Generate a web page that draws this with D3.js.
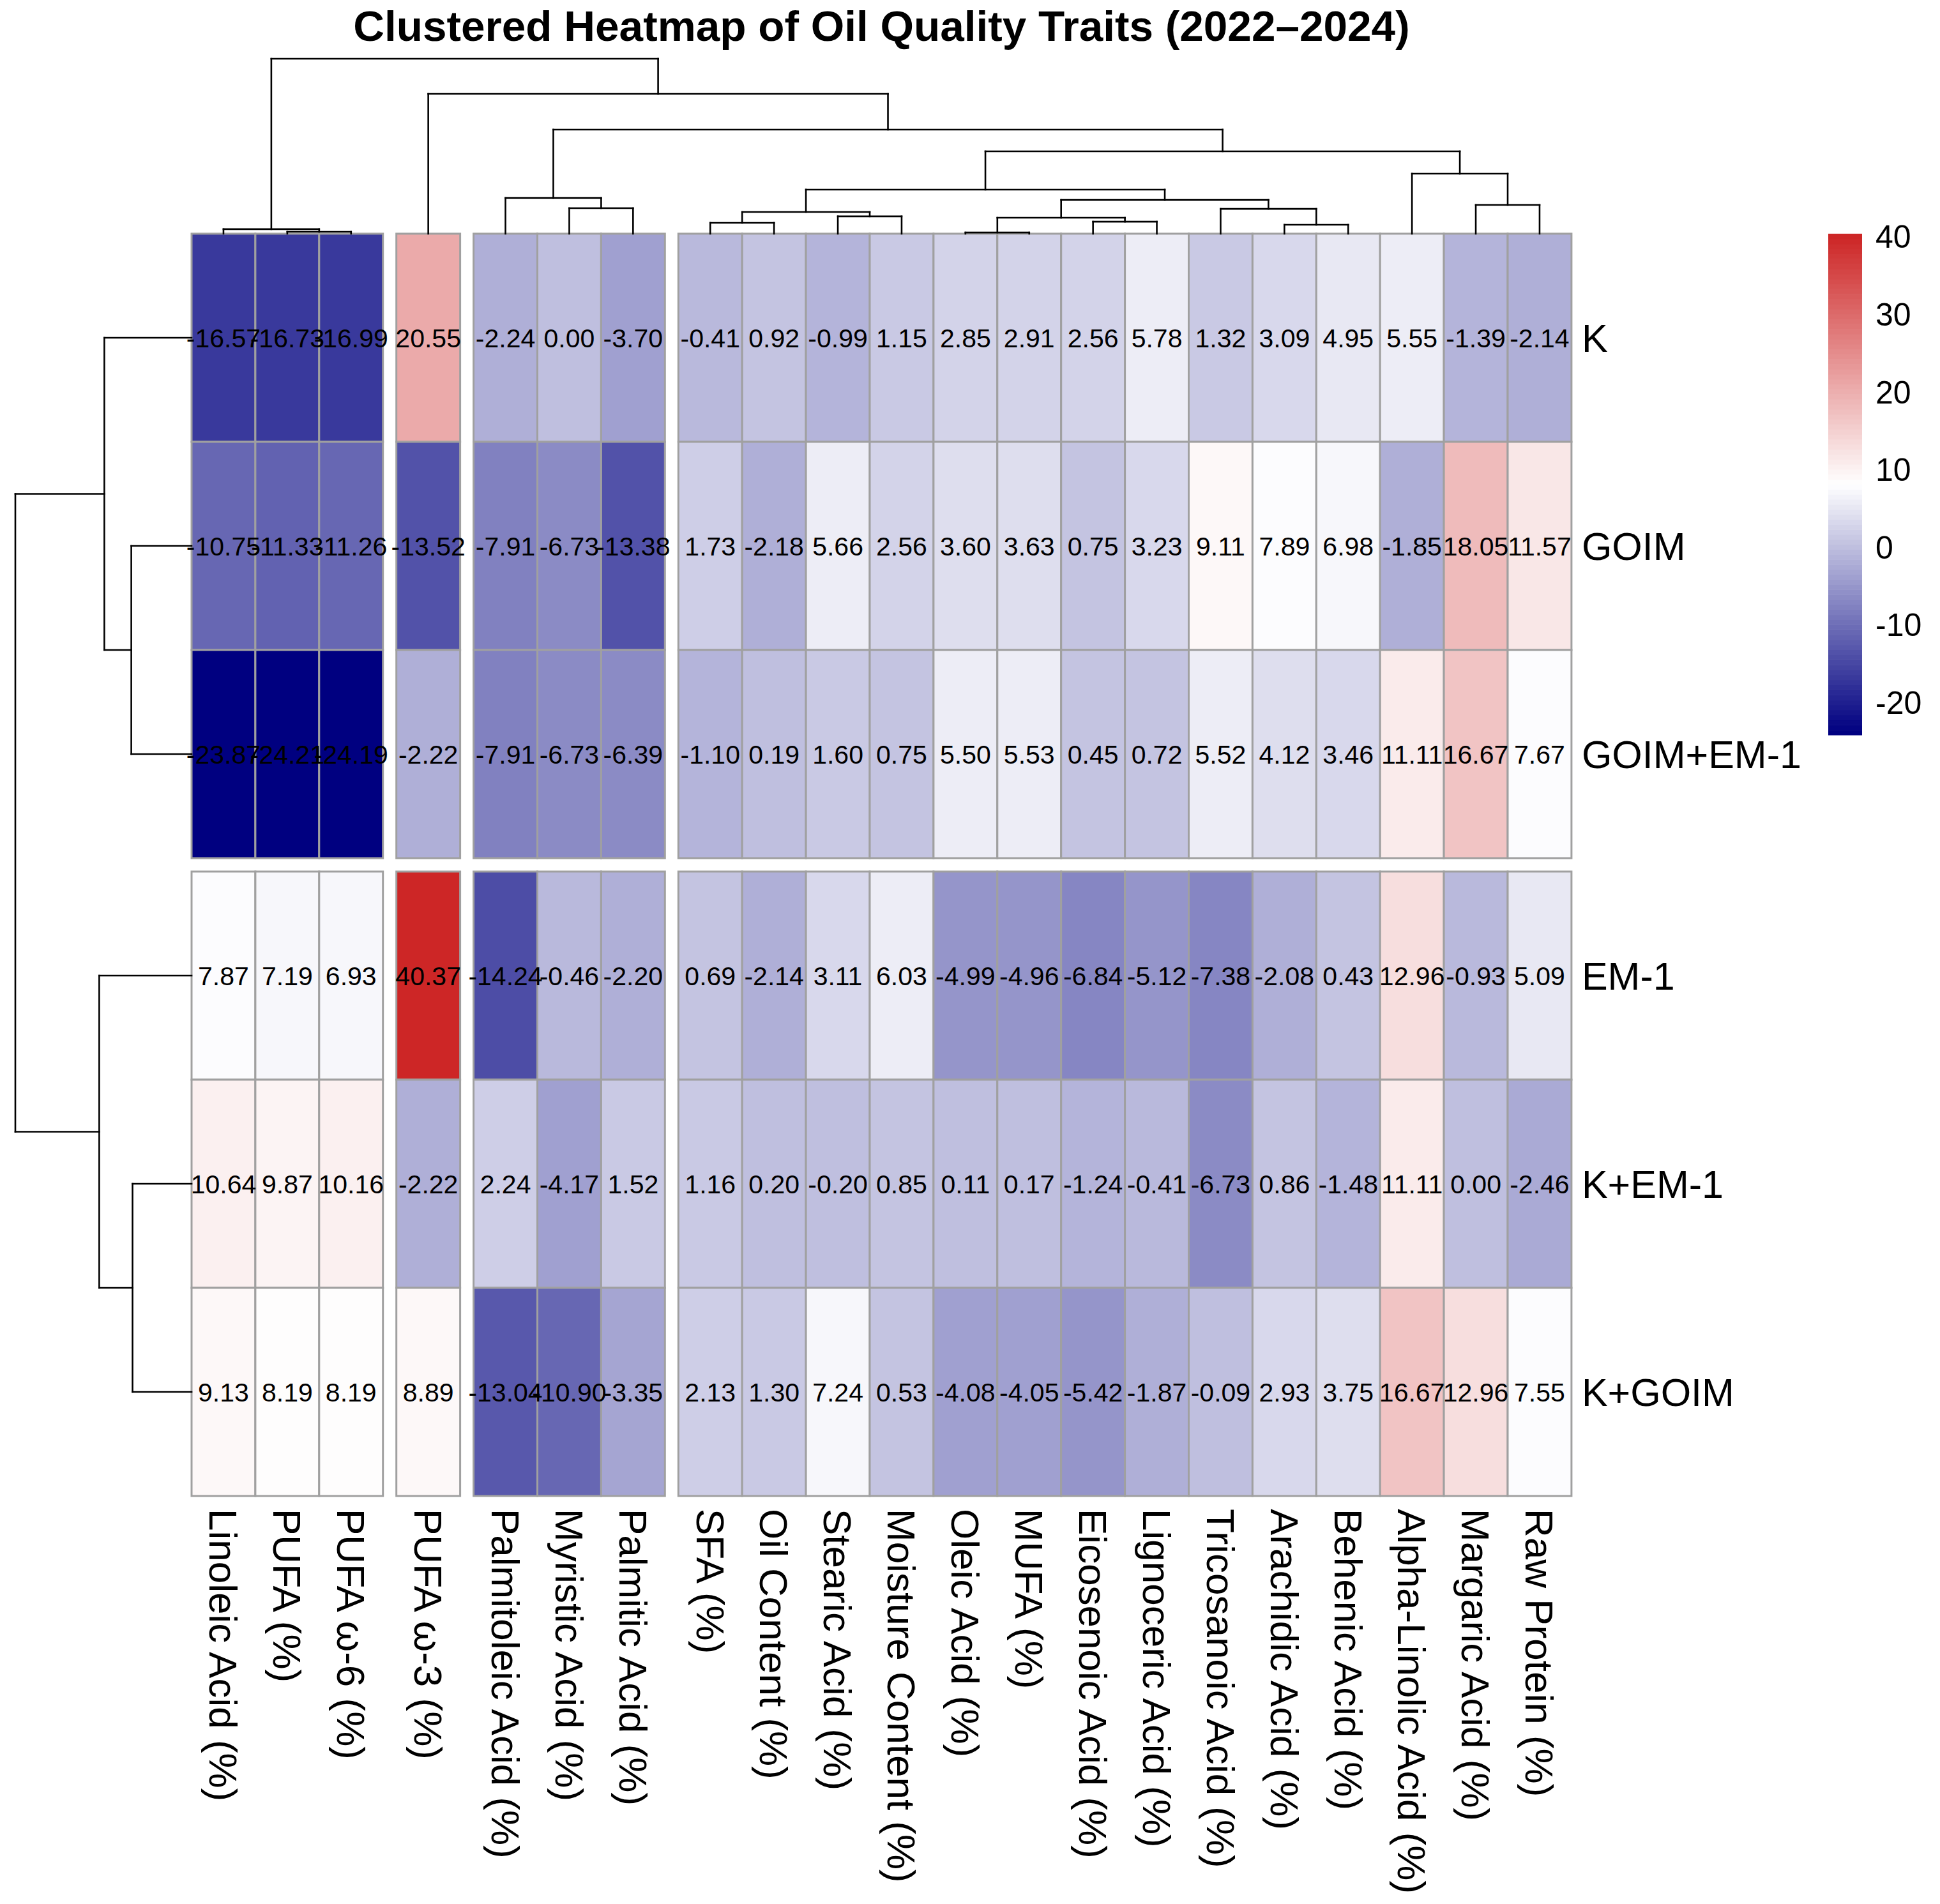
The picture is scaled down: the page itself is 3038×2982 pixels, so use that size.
<!DOCTYPE html>
<html>
<head>
<meta charset="utf-8">
<script src="https://cdn.jsdelivr.net/npm/d3@7"></script>
<style>
  body { margin: 0; background: #fff; }
  text { font-family: "Liberation Sans", Arial, sans-serif; }
</style>
</head>
<body>
<script>
// column / row order as drawn (leaf order of the dendrograms)
var cols = ["Linoleic Acid (%)", "PUFA (%)", "PUFA ω-6 (%)", "PUFA ω-3 (%)",
  "Palmitoleic Acid (%)", "Myristic Acid (%)", "Palmitic Acid (%)",
  "SFA (%)", "Oil Content (%)", "Stearic Acid (%)", "Moisture Content (%)",
  "Oleic Acid (%)", "MUFA (%)", "Eicosenoic Acid (%)", "Lignoceric Acid (%)",
  "Tricosanoic Acid (%)", "Arachidic Acid (%)", "Behenic Acid (%)",
  "Alpha-Linolic Acid (%)", "Margaric Acid (%)", "Raw Protein (%)"];
var rows = ["K", "GOIM", "GOIM+EM-1", "EM-1", "K+EM-1", "K+GOIM"];

var valK      = [-16.57, -16.73, -16.99, 20.55, -2.24, 0.00, -3.70, -0.41, 0.92, -0.99, 1.15, 2.85, 2.91, 2.56, 5.78, 1.32, 3.09, 4.95, 5.55, -1.39, -2.14];
var valGOIM   = [-10.75, -11.33, -11.26, -13.52, -7.91, -6.73, -13.38, 1.73, -2.18, 5.66, 2.56, 3.60, 3.63, 0.75, 3.23, 9.11, 7.89, 6.98, -1.85, 18.05, 11.57];
var valGOIMEM = [-23.87, -24.21, -24.19, -2.22, -7.91, -6.73, -6.39, -1.10, 0.19, 1.60, 0.75, 5.50, 5.53, 0.45, 0.72, 5.52, 4.12, 3.46, 11.11, 16.67, 7.67];
var valEM     = [7.87, 7.19, 6.93, 40.37, -14.24, -0.46, -2.20, 0.69, -2.14, 3.11, 6.03, -4.99, -4.96, -6.84, -5.12, -7.38, -2.08, 0.43, 12.96, -0.93, 5.09];
var valKEM    = [10.64, 9.87, 10.16, -2.22, 2.24, -4.17, 1.52, 1.16, 0.20, -0.20, 0.85, 0.11, 0.17, -1.24, -0.41, -6.73, 0.86, -1.48, 11.11, 0.00, -2.46];
var valKGOIM  = [9.13, 8.19, 8.19, 8.89, -13.04, -10.90, -3.35, 2.13, 1.30, 7.24, 0.53, -4.08, -4.05, -5.42, -1.87, -0.09, 2.93, 3.75, 16.67, 12.96, 7.55];
var values = [valK, valGOIM, valGOIMEM, valEM, valKEM, valKGOIM];

// cluster cuts: gap after these leaf counts
var colCuts = [3, 4, 7];
var rowCuts = [3];

// merges [a, b, height]; strings are leaves, numbers point to an earlier merge
// heights read relative to the root
var colMerges = [
  ["Oleic Acid (%)", "MUFA (%)", 0.007],
  ["PUFA (%)", "PUFA ω-6 (%)", 0.011],
  ["Linoleic Acid (%)", 1, 0.026],
  ["Arachidic Acid (%)", "Behenic Acid (%)", 0.051],
  ["SFA (%)", "Oil Content (%)", 0.062],
  ["Eicosenoic Acid (%)", "Lignoceric Acid (%)", 0.069],
  [0, 5, 0.091],
  ["Stearic Acid (%)", "Moisture Content (%)", 0.099],
  [4, 7, 0.124],
  ["Tricosanoic Acid (%)", 3, 0.142],
  ["Myristic Acid (%)", "Palmitic Acid (%)", 0.146],
  ["Margaric Acid (%)", "Raw Protein (%)", 0.164],
  [6, 9, 0.193],
  ["Palmitoleic Acid (%)", 10, 0.204],
  [8, 12, 0.252],
  ["Alpha-Linolic Acid (%)", 11, 0.343],
  [14, 15, 0.471],
  [13, 16, 0.595],
  ["PUFA ω-3 (%)", 17, 0.799],
  [2, 18, 1.0]
];
var rowMerges = [
  ["GOIM", "GOIM+EM-1", 0.342],
  ["K+EM-1", "K+GOIM", 0.335],
  ["K", 0, 0.495],
  ["EM-1", 1, 0.524],
  [2, 3, 1.0]
];

var legendTicks = [-20, -10, 0, 10, 20, 30, 40];
var title = "Clustered Heatmap of Oil Quality Traits (2022–2024)";

var W = 3038, H = 2982;
var x0 = 300, y0 = 366, cw = 99.9, ch = 326, gap = 21;

var svg = d3.select("body").append("svg")
  .attr("width", W).attr("height", H)
  .attr("viewBox", [0, 0, W, H]);
svg.append("rect").attr("width", W).attr("height", H).attr("fill", "#fff");

var xBand = d3.scaleBand().domain(cols).range([x0, x0 + cols.length * cw]);
var yBand = d3.scaleBand().domain(rows).range([y0, y0 + rows.length * ch]);
var xPos = function(c){ var i = cols.indexOf(c); return xBand(c) + d3.bisectRight(colCuts, i) * gap; };
var yPos = function(r){ var i = rows.indexOf(r); return yBand(r) + d3.bisectRight(rowCuts, i) * gap; };

var all = d3.merge(values);
var vmin = d3.min(all), vmax = d3.max(all);
var ramp = d3.piecewise(d3.interpolateRgb, ["#000080", "#ffffff", "#cd2626"]);
var palette = d3.range(100).map(function(i){ return ramp(i / 99); });
var color = d3.scaleQuantize().domain([vmin, vmax]).range(palette);

// cells
var cells = [];
rows.forEach(function(r, ri){
  cols.forEach(function(c, ci){
    cells.push({row: r, col: c, v: values[ri][ci]});
  });
});

var gCells = svg.append("g");
gCells.selectAll("rect").data(cells).join("rect")
  .attr("x", function(d){ return xPos(d.col); })
  .attr("y", function(d){ return yPos(d.row); })
  .attr("width", cw).attr("height", ch)
  .attr("fill", function(d){ return color(d.v); })
  .attr("stroke", "#a0a0a0").attr("stroke-width", 3);

gCells.selectAll("text").data(cells).join("text")
  .attr("x", function(d){ return xPos(d.col) + cw / 2; })
  .attr("y", function(d){ return yPos(d.row) + ch / 2; })
  .attr("text-anchor", "middle")
  .attr("dy", "0.36em")
  .attr("font-size", 41)
  .attr("fill", "#000")
  .text(function(d){ return d.v.toFixed(2); });

// dendrograms
function dendro(merges, leafPos){
  var nodes = merges.map(function(){ return null; });
  var segs = [];
  var get = function(k){
    if(typeof k === "string") return {p: leafPos(k), h: 0};
    return nodes[k];
  };
  merges.forEach(function(m, i){
    var a = get(m[0]), b = get(m[1]), h = m[2];
    segs.push([a.p, a.h, a.p, h]);
    segs.push([b.p, b.h, b.p, h]);
    segs.push([a.p, h, b.p, h]);
    nodes[i] = {p: (a.p + b.p) / 2, h: h};
  });
  return segs;
}

var colH = d3.scaleLinear().domain([0, 1]).range([y0, 92]);
var colSegs = dendro(colMerges, function(c){ return xPos(c) + cw / 2; });
svg.append("g").selectAll("line").data(colSegs).join("line")
  .attr("x1", function(s){ return s[0]; })
  .attr("y1", function(s){ return colH(s[1]); })
  .attr("x2", function(s){ return s[2]; })
  .attr("y2", function(s){ return colH(s[3]); })
  .attr("stroke", "#000").attr("stroke-width", 2.6)
  .attr("stroke-linecap", "square");

var rowH = d3.scaleLinear().domain([0, 1]).range([x0, 24]);
var rowSegs = dendro(rowMerges, function(r){ return yPos(r) + ch / 2; });
svg.append("g").selectAll("line").data(rowSegs).join("line")
  .attr("x1", function(s){ return rowH(s[1]); })
  .attr("y1", function(s){ return s[0]; })
  .attr("x2", function(s){ return rowH(s[3]); })
  .attr("y2", function(s){ return s[2]; })
  .attr("stroke", "#000").attr("stroke-width", 2.6)
  .attr("stroke-linecap", "square");

// labels
var right = xPos(cols[cols.length - 1]) + cw;
var bottom = yPos(rows[rows.length - 1]) + ch;

svg.append("g").selectAll("text").data(rows).join("text")
  .attr("x", right + 16)
  .attr("y", function(r){ return yPos(r) + ch / 2; })
  .attr("dy", "0.36em")
  .attr("font-size", 61)
  .text(function(r){ return r; });

svg.append("g").selectAll("text").data(cols).join("text")
  .attr("transform", function(c){
    return "translate(" + (xPos(c) + cw / 2) + "," + (bottom + 20) + ") rotate(90)";
  })
  .attr("dy", "0.35em")
  .attr("font-size", 62)
  .text(function(c){ return c; });

svg.append("text")
  .attr("x", (x0 + right) / 2).attr("y", 64)
  .attr("text-anchor", "middle")
  .attr("font-size", 67.5).attr("font-weight", "bold")
  .text(title);

// legend
var lx = 2863, lw = 53;
var ly = d3.scaleLinear().domain([vmin, vmax]).range([1151, 366]);
var step = (vmax - vmin) / palette.length;
var gLeg = svg.append("g");
gLeg.selectAll("rect").data(palette).join("rect")
  .attr("x", lx).attr("width", lw)
  .attr("y", function(c, i){ return ly(vmin + (i + 1) * step); })
  .attr("height", function(c, i){ return ly(vmin + i * step) - ly(vmin + (i + 1) * step) + 0.6; })
  .attr("fill", function(c){ return c; });
gLeg.selectAll("text").data(legendTicks).join("text")
  .attr("x", lx + lw + 21)
  .attr("y", function(t){ return ly(t); })
  .attr("dy", "0.36em")
  .attr("font-size", 50)
  .text(function(t){ return t; });
</script>
</body>
</html>
